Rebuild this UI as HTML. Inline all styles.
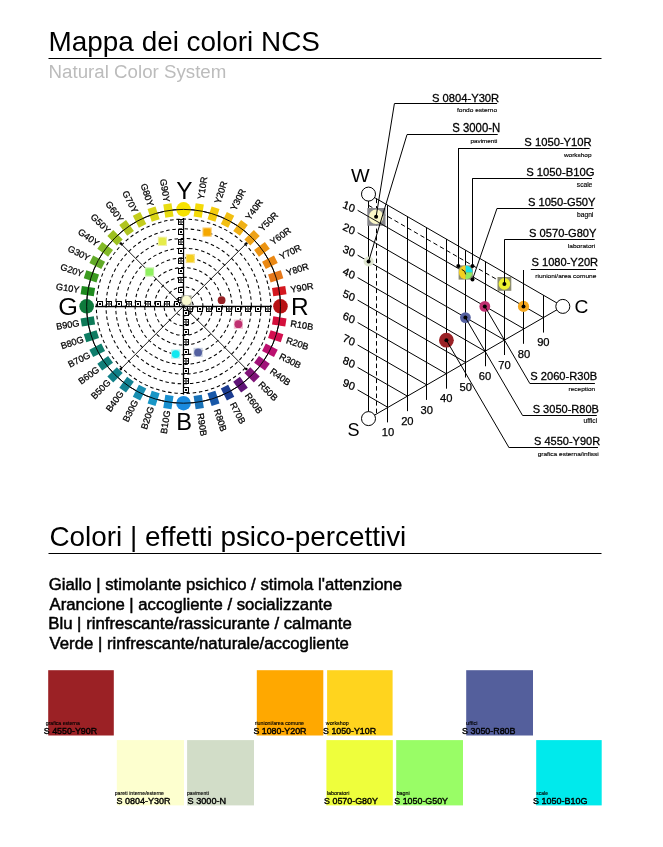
<!DOCTYPE html>
<html><head><meta charset="utf-8"><title>Mappa dei colori NCS</title>
<style>
html,body{margin:0;padding:0;background:#fff;}
body{width:663px;height:847px;overflow:hidden;}
svg{display:block;font-family:'Liberation Sans', Arial, Helvetica, sans-serif;will-change:transform;}
</style></head>
<body>
<svg width="663" height="847" viewBox="0 0 663 847">
<rect width="663" height="847" fill="#fff"/>
<text x="48.61" y="50.9" font-size="28.3" textLength="271.27" lengthAdjust="spacingAndGlyphs" fill="#000">Mappa dei colori NCS</text>
<line x1="48.5" y1="58.5" x2="601.5" y2="58.5" stroke="#000" stroke-width="1.2"/>
<text x="48.57" y="77.5" font-size="19.2" textLength="177.77" lengthAdjust="spacingAndGlyphs" fill="#bcbcbc">Natural Color System</text>
<text x="49.49" y="545.6" font-size="28.3" textLength="356.79" lengthAdjust="spacingAndGlyphs" fill="#000">Colori | effetti psico-percettivi</text>
<line x1="48.5" y1="553.5" x2="601.5" y2="553.5" stroke="#000" stroke-width="1.2"/>
<text x="48.76" y="590.1" font-size="16.73" textLength="353.38" lengthAdjust="spacingAndGlyphs" fill="#000" stroke="#000" stroke-width="0.5">Giallo | stimolante psichico / stimola l&#39;attenzione</text>
<text x="49.57" y="609.7" font-size="16.69" textLength="282.67" lengthAdjust="spacingAndGlyphs" fill="#000" stroke="#000" stroke-width="0.5">Arancione | accogliente / socializzante</text>
<text x="48.22" y="629.4" font-size="16.77" textLength="303.52" lengthAdjust="spacingAndGlyphs" fill="#000" stroke="#000" stroke-width="0.5">Blu | rinfrescante/rassicurante / calmante</text>
<text x="49.53" y="649.2" font-size="16.69" textLength="299.42" lengthAdjust="spacingAndGlyphs" fill="#000" stroke="#000" stroke-width="0.5">Verde | rinfrescante/naturale/accogliente</text>
<circle cx="183.55" cy="306.3" r="9.69" fill="none" stroke="#000" stroke-width="1.05" stroke-dasharray="3.5 2.7"/>
<circle cx="183.55" cy="306.3" r="19.38" fill="none" stroke="#000" stroke-width="1.05" stroke-dasharray="3.5 2.7"/>
<circle cx="183.55" cy="306.3" r="29.07" fill="none" stroke="#000" stroke-width="1.05" stroke-dasharray="3.5 2.7"/>
<circle cx="183.55" cy="306.3" r="38.76" fill="none" stroke="#000" stroke-width="1.05" stroke-dasharray="3.5 2.7"/>
<circle cx="183.55" cy="306.3" r="48.45" fill="none" stroke="#000" stroke-width="1.05" stroke-dasharray="3.5 2.7"/>
<circle cx="183.55" cy="306.3" r="58.14" fill="none" stroke="#000" stroke-width="1.05" stroke-dasharray="3.5 2.7"/>
<circle cx="183.55" cy="306.3" r="67.83" fill="none" stroke="#000" stroke-width="1.05" stroke-dasharray="3.5 2.7"/>
<circle cx="183.55" cy="306.3" r="77.52" fill="none" stroke="#000" stroke-width="1.05" stroke-dasharray="3.5 2.7"/>
<circle cx="183.55" cy="306.3" r="87.21" fill="none" stroke="#000" stroke-width="1.05" stroke-dasharray="3.5 2.7"/>
<circle cx="183.55" cy="306.3" r="96.9" fill="none" stroke="#000" stroke-width="1"/>
<line x1="95.25" y1="306.5" x2="271.85" y2="306.5" stroke="#000" stroke-width="1.3"/>
<line x1="183.5" y1="218" x2="183.5" y2="394.6" stroke="#000" stroke-width="1.3"/>
<line x1="120.62" y1="243.37" x2="246.48" y2="369.23" stroke="#000" stroke-width="0.9"/>
<line x1="120.62" y1="369.23" x2="246.48" y2="243.37" stroke="#000" stroke-width="0.9"/>
<circle cx="120.76" cy="243.51" r="1.3" fill="#000"/>
<circle cx="120.76" cy="369.09" r="1.3" fill="#000"/>
<circle cx="246.34" cy="243.51" r="1.3" fill="#000"/>
<circle cx="246.34" cy="369.09" r="1.3" fill="#000"/>
<rect x="174.5" y="301.5" width="5" height="5" fill="#fff" stroke="#000" stroke-width="1"/>
<path d="M175.9 302.9L178.1 305.1M178.1 302.9L175.9 305.1" stroke="#000" stroke-width="0.95"/>
<rect x="187.5" y="306.5" width="5" height="5" fill="#fff" stroke="#000" stroke-width="1"/>
<circle cx="190" cy="309" r="1.25" fill="none" stroke="#000" stroke-width="0.95"/>
<rect x="178.5" y="297.5" width="5" height="5" fill="#fff" stroke="#000" stroke-width="1"/>
<circle cx="181" cy="300" r="1.25" fill="none" stroke="#000" stroke-width="0.95"/>
<rect x="183.5" y="310.5" width="5" height="5" fill="#fff" stroke="#000" stroke-width="1"/>
<path d="M184.9 311.9L187.1 314.1M187.1 311.9L184.9 314.1" stroke="#000" stroke-width="0.95"/>
<rect x="164.5" y="301.5" width="5" height="5" fill="#fff" stroke="#000" stroke-width="1"/>
<circle cx="167" cy="304" r="1.25" fill="none" stroke="#000" stroke-width="0.95"/>
<rect x="197.5" y="306.5" width="5" height="5" fill="#fff" stroke="#000" stroke-width="1"/>
<path d="M198.9 307.9L201.1 310.1M201.1 307.9L198.9 310.1" stroke="#000" stroke-width="0.95"/>
<rect x="178.5" y="287.5" width="5" height="5" fill="#fff" stroke="#000" stroke-width="1"/>
<path d="M179.9 288.9L182.1 291.1M182.1 288.9L179.9 291.1" stroke="#000" stroke-width="0.95"/>
<rect x="183.5" y="319.5" width="5" height="5" fill="#fff" stroke="#000" stroke-width="1"/>
<circle cx="186" cy="322" r="1.25" fill="none" stroke="#000" stroke-width="0.95"/>
<rect x="155.5" y="301.5" width="5" height="5" fill="#fff" stroke="#000" stroke-width="1"/>
<path d="M156.9 302.9L159.1 305.1M159.1 302.9L156.9 305.1" stroke="#000" stroke-width="0.95"/>
<rect x="206.5" y="306.5" width="5" height="5" fill="#fff" stroke="#000" stroke-width="1"/>
<circle cx="209" cy="309" r="1.25" fill="none" stroke="#000" stroke-width="0.95"/>
<rect x="178.5" y="277.5" width="5" height="5" fill="#fff" stroke="#000" stroke-width="1"/>
<circle cx="181" cy="280" r="1.25" fill="none" stroke="#000" stroke-width="0.95"/>
<rect x="183.5" y="329.5" width="5" height="5" fill="#fff" stroke="#000" stroke-width="1"/>
<path d="M184.9 330.9L187.1 333.1M187.1 330.9L184.9 333.1" stroke="#000" stroke-width="0.95"/>
<rect x="145.5" y="301.5" width="5" height="5" fill="#fff" stroke="#000" stroke-width="1"/>
<circle cx="148" cy="304" r="1.25" fill="none" stroke="#000" stroke-width="0.95"/>
<rect x="216.5" y="306.5" width="5" height="5" fill="#fff" stroke="#000" stroke-width="1"/>
<path d="M217.9 307.9L220.1 310.1M220.1 307.9L217.9 310.1" stroke="#000" stroke-width="0.95"/>
<rect x="178.5" y="268.5" width="5" height="5" fill="#fff" stroke="#000" stroke-width="1"/>
<path d="M179.9 269.9L182.1 272.1M182.1 269.9L179.9 272.1" stroke="#000" stroke-width="0.95"/>
<rect x="183.5" y="339.5" width="5" height="5" fill="#fff" stroke="#000" stroke-width="1"/>
<circle cx="186" cy="342" r="1.25" fill="none" stroke="#000" stroke-width="0.95"/>
<rect x="135.5" y="301.5" width="5" height="5" fill="#fff" stroke="#000" stroke-width="1"/>
<path d="M136.9 302.9L139.1 305.1M139.1 302.9L136.9 305.1" stroke="#000" stroke-width="0.95"/>
<rect x="226.5" y="306.5" width="5" height="5" fill="#fff" stroke="#000" stroke-width="1"/>
<circle cx="229" cy="309" r="1.25" fill="none" stroke="#000" stroke-width="0.95"/>
<rect x="178.5" y="258.5" width="5" height="5" fill="#fff" stroke="#000" stroke-width="1"/>
<circle cx="181" cy="261" r="1.25" fill="none" stroke="#000" stroke-width="0.95"/>
<rect x="183.5" y="349.5" width="5" height="5" fill="#fff" stroke="#000" stroke-width="1"/>
<path d="M184.9 350.9L187.1 353.1M187.1 350.9L184.9 353.1" stroke="#000" stroke-width="0.95"/>
<rect x="126.5" y="301.5" width="5" height="5" fill="#fff" stroke="#000" stroke-width="1"/>
<circle cx="129" cy="304" r="1.25" fill="none" stroke="#000" stroke-width="0.95"/>
<rect x="235.5" y="306.5" width="5" height="5" fill="#fff" stroke="#000" stroke-width="1"/>
<path d="M236.9 307.9L239.1 310.1M239.1 307.9L236.9 310.1" stroke="#000" stroke-width="0.95"/>
<rect x="178.5" y="248.5" width="5" height="5" fill="#fff" stroke="#000" stroke-width="1"/>
<path d="M179.9 249.9L182.1 252.1M182.1 249.9L179.9 252.1" stroke="#000" stroke-width="0.95"/>
<rect x="183.5" y="358.5" width="5" height="5" fill="#fff" stroke="#000" stroke-width="1"/>
<circle cx="186" cy="361" r="1.25" fill="none" stroke="#000" stroke-width="0.95"/>
<rect x="116.5" y="301.5" width="5" height="5" fill="#fff" stroke="#000" stroke-width="1"/>
<path d="M117.9 302.9L120.1 305.1M120.1 302.9L117.9 305.1" stroke="#000" stroke-width="0.95"/>
<rect x="245.5" y="306.5" width="5" height="5" fill="#fff" stroke="#000" stroke-width="1"/>
<circle cx="248" cy="309" r="1.25" fill="none" stroke="#000" stroke-width="0.95"/>
<rect x="178.5" y="239.5" width="5" height="5" fill="#fff" stroke="#000" stroke-width="1"/>
<circle cx="181" cy="242" r="1.25" fill="none" stroke="#000" stroke-width="0.95"/>
<rect x="183.5" y="368.5" width="5" height="5" fill="#fff" stroke="#000" stroke-width="1"/>
<path d="M184.9 369.9L187.1 372.1M187.1 369.9L184.9 372.1" stroke="#000" stroke-width="0.95"/>
<rect x="106.5" y="301.5" width="5" height="5" fill="#fff" stroke="#000" stroke-width="1"/>
<circle cx="109" cy="304" r="1.25" fill="none" stroke="#000" stroke-width="0.95"/>
<rect x="255.5" y="306.5" width="5" height="5" fill="#fff" stroke="#000" stroke-width="1"/>
<path d="M256.9 307.9L259.1 310.1M259.1 307.9L256.9 310.1" stroke="#000" stroke-width="0.95"/>
<rect x="178.5" y="229.5" width="5" height="5" fill="#fff" stroke="#000" stroke-width="1"/>
<path d="M179.9 230.9L182.1 233.1M182.1 230.9L179.9 233.1" stroke="#000" stroke-width="0.95"/>
<rect x="183.5" y="378.5" width="5" height="5" fill="#fff" stroke="#000" stroke-width="1"/>
<circle cx="186" cy="381" r="1.25" fill="none" stroke="#000" stroke-width="0.95"/>
<rect x="97.5" y="301.5" width="5" height="5" fill="#fff" stroke="#000" stroke-width="1"/>
<path d="M98.9 302.9L101.1 305.1M101.1 302.9L98.9 305.1" stroke="#000" stroke-width="0.95"/>
<rect x="265.5" y="306.5" width="5" height="5" fill="#fff" stroke="#000" stroke-width="1"/>
<circle cx="268" cy="309" r="1.25" fill="none" stroke="#000" stroke-width="0.95"/>
<rect x="178.5" y="219.5" width="5" height="5" fill="#fff" stroke="#000" stroke-width="1"/>
<circle cx="181" cy="222" r="1.25" fill="none" stroke="#000" stroke-width="0.95"/>
<rect x="183.5" y="387.5" width="5" height="5" fill="#fff" stroke="#000" stroke-width="1"/>
<path d="M184.9 388.9L187.1 391.1M187.1 388.9L184.9 391.1" stroke="#000" stroke-width="0.95"/>
<circle cx="183.55" cy="209.4" r="7.3" fill="#f6e200"/>
<rect x="-6.7" y="-4.15" width="13.4" height="8.3" fill="#f4da08" transform="translate(198.71 210.59) rotate(279)"/>
<rect x="-6.7" y="-4.15" width="13.4" height="8.3" fill="#f4cb0c" transform="translate(213.49 214.14) rotate(288)"/>
<rect x="-6.7" y="-4.15" width="13.4" height="8.3" fill="#f2bf12" transform="translate(227.54 219.96) rotate(297)"/>
<rect x="-6.7" y="-4.15" width="13.4" height="8.3" fill="#f0b014" transform="translate(240.51 227.91) rotate(306)"/>
<rect x="-6.7" y="-4.15" width="13.4" height="8.3" fill="#eea216" transform="translate(252.07 237.78) rotate(315)"/>
<rect x="-6.7" y="-4.15" width="13.4" height="8.3" fill="#ec9412" transform="translate(261.94 249.34) rotate(324)"/>
<rect x="-6.7" y="-4.15" width="13.4" height="8.3" fill="#ea8814" transform="translate(269.89 262.31) rotate(333)"/>
<rect x="-6.7" y="-4.15" width="13.4" height="8.3" fill="#e6781a" transform="translate(275.71 276.36) rotate(342)"/>
<rect x="-6.7" y="-4.15" width="13.4" height="8.3" fill="#d41820" transform="translate(279.26 291.14) rotate(351)"/>
<circle cx="280.45" cy="306.3" r="7.3" fill="#b81214"/>
<rect x="-6.7" y="-4.15" width="13.4" height="8.3" fill="#d4103c" transform="translate(279.26 321.46) rotate(369)"/>
<rect x="-6.7" y="-4.15" width="13.4" height="8.3" fill="#d41050" transform="translate(275.71 336.24) rotate(378)"/>
<rect x="-6.7" y="-4.15" width="13.4" height="8.3" fill="#bc1070" transform="translate(269.89 350.29) rotate(387)"/>
<rect x="-6.7" y="-4.15" width="13.4" height="8.3" fill="#a01278" transform="translate(261.94 363.26) rotate(396)"/>
<rect x="-6.7" y="-4.15" width="13.4" height="8.3" fill="#801478" transform="translate(252.07 374.82) rotate(405)"/>
<rect x="-6.7" y="-4.15" width="13.4" height="8.3" fill="#5e1476" transform="translate(240.51 384.69) rotate(414)"/>
<rect x="-6.7" y="-4.15" width="13.4" height="8.3" fill="#1c3c90" transform="translate(227.54 392.64) rotate(423)"/>
<rect x="-6.7" y="-4.15" width="13.4" height="8.3" fill="#1858a8" transform="translate(213.49 398.46) rotate(432)"/>
<rect x="-6.7" y="-4.15" width="13.4" height="8.3" fill="#1872b8" transform="translate(198.71 402.01) rotate(441)"/>
<circle cx="183.55" cy="403.2" r="7.3" fill="#1a8ade"/>
<rect x="-6.7" y="-4.15" width="13.4" height="8.3" fill="#1890d0" transform="translate(168.39 402.01) rotate(459)"/>
<rect x="-6.7" y="-4.15" width="13.4" height="8.3" fill="#1896c6" transform="translate(153.61 398.46) rotate(468)"/>
<rect x="-6.7" y="-4.15" width="13.4" height="8.3" fill="#188eb0" transform="translate(139.56 392.64) rotate(477)"/>
<rect x="-6.7" y="-4.15" width="13.4" height="8.3" fill="#128292" transform="translate(126.59 384.69) rotate(486)"/>
<rect x="-6.7" y="-4.15" width="13.4" height="8.3" fill="#108088" transform="translate(115.03 374.82) rotate(495)"/>
<rect x="-6.7" y="-4.15" width="13.4" height="8.3" fill="#107e78" transform="translate(105.16 363.26) rotate(504)"/>
<rect x="-6.7" y="-4.15" width="13.4" height="8.3" fill="#0e7e6c" transform="translate(97.21 350.29) rotate(513)"/>
<rect x="-6.7" y="-4.15" width="13.4" height="8.3" fill="#0e7c62" transform="translate(91.39 336.24) rotate(522)"/>
<rect x="-6.7" y="-4.15" width="13.4" height="8.3" fill="#0e7a58" transform="translate(87.84 321.46) rotate(531)"/>
<circle cx="86.65" cy="306.3" r="7.3" fill="#0e7a3c"/>
<rect x="-6.7" y="-4.15" width="13.4" height="8.3" fill="#1e8a1e" transform="translate(87.84 291.14) rotate(549)"/>
<rect x="-6.7" y="-4.15" width="13.4" height="8.3" fill="#3c9a20" transform="translate(91.39 276.36) rotate(558)"/>
<rect x="-6.7" y="-4.15" width="13.4" height="8.3" fill="#62aa28" transform="translate(97.21 262.31) rotate(567)"/>
<rect x="-6.7" y="-4.15" width="13.4" height="8.3" fill="#84ba28" transform="translate(105.16 249.34) rotate(576)"/>
<rect x="-6.7" y="-4.15" width="13.4" height="8.3" fill="#9cc020" transform="translate(115.03 237.78) rotate(585)"/>
<rect x="-6.7" y="-4.15" width="13.4" height="8.3" fill="#b0c420" transform="translate(126.59 227.91) rotate(594)"/>
<rect x="-6.7" y="-4.15" width="13.4" height="8.3" fill="#c4cc1c" transform="translate(139.56 219.96) rotate(603)"/>
<rect x="-6.7" y="-4.15" width="13.4" height="8.3" fill="#d8d418" transform="translate(153.61 214.14) rotate(612)"/>
<rect x="-6.7" y="-4.15" width="13.4" height="8.3" fill="#e8dc12" transform="translate(168.39 210.59) rotate(621)"/>
<circle cx="183.55" cy="306.3" r="96.9" fill="none" stroke="#000" stroke-width="0.9"/>
<text font-size="9.2" stroke="#000" stroke-width="0.25" dy="3.3" transform="translate(200.49 199.33) rotate(-81)">Y10R</text>
<text font-size="9.2" stroke="#000" stroke-width="0.25" dy="3.3" transform="translate(217.02 203.3) rotate(-72)">Y20R</text>
<text font-size="9.2" stroke="#000" stroke-width="0.25" dy="3.3" transform="translate(232.72 209.8) rotate(-63)">Y30R</text>
<text font-size="9.2" stroke="#000" stroke-width="0.25" dy="3.3" transform="translate(247.21 218.68) rotate(-54)">Y40R</text>
<text font-size="9.2" stroke="#000" stroke-width="0.25" dy="3.3" transform="translate(260.13 229.72) rotate(-45)">Y50R</text>
<text font-size="9.2" stroke="#000" stroke-width="0.25" dy="3.3" transform="translate(271.17 242.64) rotate(-36)">Y60R</text>
<text font-size="9.2" stroke="#000" stroke-width="0.25" dy="3.3" transform="translate(280.05 257.13) rotate(-27)">Y70R</text>
<text font-size="9.2" stroke="#000" stroke-width="0.25" dy="3.3" transform="translate(286.55 272.83) rotate(-18)">Y80R</text>
<text font-size="9.2" stroke="#000" stroke-width="0.25" dy="3.3" transform="translate(290.52 289.36) rotate(-9)">Y90R</text>
<text font-size="9.2" stroke="#000" stroke-width="0.25" dy="3.3" transform="translate(290.52 323.24) rotate(9)">R10B</text>
<text font-size="9.2" stroke="#000" stroke-width="0.25" dy="3.3" transform="translate(286.55 339.77) rotate(18)">R20B</text>
<text font-size="9.2" stroke="#000" stroke-width="0.25" dy="3.3" transform="translate(280.05 355.47) rotate(27)">R30B</text>
<text font-size="9.2" stroke="#000" stroke-width="0.25" dy="3.3" transform="translate(271.17 369.96) rotate(36)">R40B</text>
<text font-size="9.2" stroke="#000" stroke-width="0.25" dy="3.3" transform="translate(260.13 382.88) rotate(45)">R50B</text>
<text font-size="9.2" stroke="#000" stroke-width="0.25" dy="3.3" transform="translate(247.21 393.92) rotate(54)">R60B</text>
<text font-size="9.2" stroke="#000" stroke-width="0.25" dy="3.3" transform="translate(232.72 402.8) rotate(63)">R70B</text>
<text font-size="9.2" stroke="#000" stroke-width="0.25" dy="3.3" transform="translate(217.02 409.3) rotate(72)">R80B</text>
<text font-size="9.2" stroke="#000" stroke-width="0.25" dy="3.3" transform="translate(200.49 413.27) rotate(81)">R90B</text>
<text font-size="9.2" stroke="#000" stroke-width="0.25" text-anchor="end" dy="3.3" transform="translate(167.05 410.5) rotate(-81)">B10G</text>
<text font-size="9.2" stroke="#000" stroke-width="0.25" text-anchor="end" dy="3.3" transform="translate(150.95 406.64) rotate(-72)">B20G</text>
<text font-size="9.2" stroke="#000" stroke-width="0.25" text-anchor="end" dy="3.3" transform="translate(135.65 400.3) rotate(-63)">B30G</text>
<text font-size="9.2" stroke="#000" stroke-width="0.25" text-anchor="end" dy="3.3" transform="translate(121.54 391.65) rotate(-54)">B40G</text>
<text font-size="9.2" stroke="#000" stroke-width="0.25" text-anchor="end" dy="3.3" transform="translate(108.95 380.9) rotate(-45)">B50G</text>
<text font-size="9.2" stroke="#000" stroke-width="0.25" text-anchor="end" dy="3.3" transform="translate(98.2 368.31) rotate(-36)">B60G</text>
<text font-size="9.2" stroke="#000" stroke-width="0.25" text-anchor="end" dy="3.3" transform="translate(89.55 354.2) rotate(-27)">B70G</text>
<text font-size="9.2" stroke="#000" stroke-width="0.25" text-anchor="end" dy="3.3" transform="translate(83.21 338.9) rotate(-18)">B80G</text>
<text font-size="9.2" stroke="#000" stroke-width="0.25" text-anchor="end" dy="3.3" transform="translate(79.35 322.8) rotate(-9)">B90G</text>
<text font-size="9.2" stroke="#000" stroke-width="0.25" text-anchor="end" dy="3.3" transform="translate(79.35 289.8) rotate(9)">G10Y</text>
<text font-size="9.2" stroke="#000" stroke-width="0.25" text-anchor="end" dy="3.3" transform="translate(83.21 273.7) rotate(18)">G20Y</text>
<text font-size="9.2" stroke="#000" stroke-width="0.25" text-anchor="end" dy="3.3" transform="translate(89.55 258.4) rotate(27)">G30Y</text>
<text font-size="9.2" stroke="#000" stroke-width="0.25" text-anchor="end" dy="3.3" transform="translate(98.2 244.29) rotate(36)">G40Y</text>
<text font-size="9.2" stroke="#000" stroke-width="0.25" text-anchor="end" dy="3.3" transform="translate(108.95 231.7) rotate(45)">G50Y</text>
<text font-size="9.2" stroke="#000" stroke-width="0.25" text-anchor="end" dy="3.3" transform="translate(121.54 220.95) rotate(54)">G60Y</text>
<text font-size="9.2" stroke="#000" stroke-width="0.25" text-anchor="end" dy="3.3" transform="translate(135.65 212.3) rotate(63)">G70Y</text>
<text font-size="9.2" stroke="#000" stroke-width="0.25" text-anchor="end" dy="3.3" transform="translate(150.95 205.96) rotate(72)">G80Y</text>
<text font-size="9.2" stroke="#000" stroke-width="0.25" text-anchor="end" dy="3.3" transform="translate(167.05 202.1) rotate(81)">G90Y</text>
<text x="176.36" y="198.6" font-size="24.2" textLength="16.27" lengthAdjust="spacingAndGlyphs" fill="#000">Y</text>
<text x="291.1" y="314.7" font-size="23.8" textLength="17.64" lengthAdjust="spacingAndGlyphs" fill="#000">R</text>
<text x="176.26" y="430.4" font-size="24.4" textLength="15.79" lengthAdjust="spacingAndGlyphs" fill="#000">B</text>
<text x="58.33" y="314.5" font-size="23.3" textLength="19.66" lengthAdjust="spacingAndGlyphs" fill="#000">G</text>
<rect x="157.8" y="236.7" width="9.2" height="9.2" fill="#f0f0a0"/>
<rect x="158.8" y="237.7" width="7.2" height="7.2" rx="1.5" fill="#e6ec4a"/>
<rect x="185.7" y="253.9" width="9.2" height="9.2" fill="#f8e080"/>
<rect x="186.7" y="254.9" width="7.2" height="7.2" rx="1.5" fill="#f5d020"/>
<rect x="202.5" y="227.5" width="9.2" height="9.2" fill="#f8c860"/>
<rect x="203.5" y="228.5" width="7.2" height="7.2" rx="1.5" fill="#f5a800"/>
<rect x="144.9" y="267.4" width="9.2" height="9.2" fill="#c0f0a0"/>
<rect x="145.9" y="268.4" width="7.2" height="7.2" rx="1.5" fill="#8ef060"/>
<rect x="171.1" y="349.5" width="9.2" height="9.2" fill="#b0f0f0"/>
<circle cx="175.7" cy="354.1" r="3.9" fill="#10e8f0"/>
<rect x="193.5" y="347.8" width="9.2" height="9.2" fill="#c8d0e0"/>
<circle cx="198.1" cy="352.4" r="3.9" fill="#5460a0"/>
<rect x="233.8" y="319.6" width="9.2" height="9.2" fill="#f0c0d0"/>
<circle cx="238.4" cy="324.2" r="3.9" fill="#c03070"/>
<circle cx="221.6" cy="300.2" r="3.9" fill="#962024"/>
<rect x="181.5" y="295.4" width="10" height="10" fill="#a0a090"/>
<circle cx="186.5" cy="300.4" r="4.6" fill="#fbfbd0"/>
<line x1="357.6" y1="210.25" x2="543.37" y2="317.58" stroke="#000" stroke-width="1"/>
<line x1="357.6" y1="232.7" x2="523.94" y2="328.8" stroke="#000" stroke-width="1"/>
<line x1="357.6" y1="255.15" x2="504.51" y2="340.02" stroke="#000" stroke-width="1"/>
<line x1="357.6" y1="277.6" x2="485.08" y2="351.25" stroke="#000" stroke-width="1"/>
<line x1="357.6" y1="300.05" x2="465.65" y2="362.48" stroke="#000" stroke-width="1"/>
<line x1="357.6" y1="322.5" x2="446.22" y2="373.7" stroke="#000" stroke-width="1"/>
<line x1="357.6" y1="344.95" x2="426.79" y2="384.93" stroke="#000" stroke-width="1"/>
<line x1="357.6" y1="367.4" x2="407.36" y2="396.15" stroke="#000" stroke-width="1"/>
<line x1="357.6" y1="389.85" x2="387.93" y2="407.38" stroke="#000" stroke-width="1"/>
<line x1="387.5" y1="205.32" x2="387.5" y2="422.38" stroke="#000" stroke-width="1"/>
<line x1="407.5" y1="216.55" x2="407.5" y2="411.15" stroke="#000" stroke-width="1"/>
<line x1="426.5" y1="227.78" x2="426.5" y2="399.93" stroke="#000" stroke-width="1"/>
<line x1="446.5" y1="239" x2="446.5" y2="388.7" stroke="#000" stroke-width="1"/>
<line x1="465.5" y1="250.22" x2="465.5" y2="377.48" stroke="#000" stroke-width="1"/>
<line x1="485.5" y1="261.45" x2="485.5" y2="366.25" stroke="#000" stroke-width="1"/>
<line x1="504.5" y1="272.68" x2="504.5" y2="355.03" stroke="#000" stroke-width="1"/>
<line x1="523.5" y1="283.9" x2="523.5" y2="343.8" stroke="#000" stroke-width="1"/>
<line x1="543.5" y1="295.12" x2="543.5" y2="332.57" stroke="#000" stroke-width="1"/>
<line x1="368.5" y1="205.32" x2="504.51" y2="283.9" stroke="#000" stroke-width="1" stroke-dasharray="4.5 3"/>
<line x1="376.5" y1="198.59" x2="376.5" y2="414.11" stroke="#000" stroke-width="1" stroke-dasharray="4.5 3"/>
<line x1="368.5" y1="194.1" x2="368.5" y2="418.6" stroke="#000" stroke-width="1"/>
<line x1="368.5" y1="194.1" x2="562.8" y2="306.4" stroke="#000" stroke-width="1"/>
<line x1="368.5" y1="418.6" x2="562.8" y2="306.4" stroke="#000" stroke-width="1"/>
<circle cx="368.5" cy="194.1" r="7.0" fill="#fff" stroke="#000" stroke-width="1"/>
<circle cx="368.5" cy="418.6" r="7.0" fill="#fff" stroke="#000" stroke-width="1"/>
<circle cx="562.8" cy="306.4" r="7.0" fill="#fff" stroke="#000" stroke-width="1"/>
<text x="351.01" y="181.5" font-size="19.2" textLength="18.65" lengthAdjust="spacingAndGlyphs" fill="#000">W</text>
<text x="347.38" y="436.4" font-size="18.8" textLength="12.05" lengthAdjust="spacingAndGlyphs" fill="#000">S</text>
<text x="574.42" y="313" font-size="18.8" textLength="13.91" lengthAdjust="spacingAndGlyphs" fill="#000">C</text>
<text x="0" y="3.9" font-size="10.2" stroke="#000" stroke-width="0.25" text-anchor="middle" transform="translate(349.1 206.2) matrix(1 0.5 -0.36 1 0 0)">10</text>
<text x="0" y="3.9" font-size="10.2" stroke="#000" stroke-width="0.25" text-anchor="middle" transform="translate(349.1 228.44) matrix(1 0.5 -0.36 1 0 0)">20</text>
<text x="0" y="3.9" font-size="10.2" stroke="#000" stroke-width="0.25" text-anchor="middle" transform="translate(349.1 250.68) matrix(1 0.5 -0.36 1 0 0)">30</text>
<text x="0" y="3.9" font-size="10.2" stroke="#000" stroke-width="0.25" text-anchor="middle" transform="translate(349.1 272.92) matrix(1 0.5 -0.36 1 0 0)">40</text>
<text x="0" y="3.9" font-size="10.2" stroke="#000" stroke-width="0.25" text-anchor="middle" transform="translate(349.1 295.16) matrix(1 0.5 -0.36 1 0 0)">50</text>
<text x="0" y="3.9" font-size="10.2" stroke="#000" stroke-width="0.25" text-anchor="middle" transform="translate(349.1 317.4) matrix(1 0.5 -0.36 1 0 0)">60</text>
<text x="0" y="3.9" font-size="10.2" stroke="#000" stroke-width="0.25" text-anchor="middle" transform="translate(349.1 339.64) matrix(1 0.5 -0.36 1 0 0)">70</text>
<text x="0" y="3.9" font-size="10.2" stroke="#000" stroke-width="0.25" text-anchor="middle" transform="translate(349.1 361.88) matrix(1 0.5 -0.36 1 0 0)">80</text>
<text x="0" y="3.9" font-size="10.2" stroke="#000" stroke-width="0.25" text-anchor="middle" transform="translate(349.1 384.12) matrix(1 0.5 -0.36 1 0 0)">90</text>
<text x="387.93" y="436" font-size="11.2" stroke="#000" stroke-width="0.25" text-anchor="middle">10</text>
<text x="407.36" y="424.8" font-size="11.2" stroke="#000" stroke-width="0.25" text-anchor="middle">20</text>
<text x="426.79" y="413.6" font-size="11.2" stroke="#000" stroke-width="0.25" text-anchor="middle">30</text>
<text x="446.22" y="402.4" font-size="11.2" stroke="#000" stroke-width="0.25" text-anchor="middle">40</text>
<text x="465.65" y="391.2" font-size="11.2" stroke="#000" stroke-width="0.25" text-anchor="middle">50</text>
<text x="485.08" y="380" font-size="11.2" stroke="#000" stroke-width="0.25" text-anchor="middle">60</text>
<text x="504.51" y="368.8" font-size="11.2" stroke="#000" stroke-width="0.25" text-anchor="middle">70</text>
<text x="523.94" y="357.6" font-size="11.2" stroke="#000" stroke-width="0.25" text-anchor="middle">80</text>
<text x="543.37" y="346.4" font-size="11.2" stroke="#000" stroke-width="0.25" text-anchor="middle">90</text>
<rect x="367.3" y="208" width="18.2" height="17.8" fill="#86868a"/>
<circle cx="376.1" cy="216.8" r="7.3" fill="#fbf8c8"/>
<circle cx="368.6" cy="261.5" r="5" fill="#dfe6d0"/>
<rect x="458.6" y="265.4" width="14.2" height="14.2" fill="#8a8a70"/>
<path d="M465.7 265.59999999999997A6.8 6.8 0 0 0 465.7 279.2Z" fill="#f4d020"/>
<path d="M465.7 265.59999999999997A6.8 6.8 0 0 1 472.5 272.4L465.7 272.4Z" fill="#18e0e8"/>
<path d="M472.5 272.4A6.8 6.8 0 0 1 465.7 279.2L465.7 272.4Z" fill="#90ec60"/>
<rect x="497.5" y="277" width="13.8" height="13.8" fill="#8c8c70"/>
<circle cx="504.4" cy="283.9" r="5.8" fill="#eef230"/>
<circle cx="523.5" cy="306.4" r="5.6" fill="#f5a820"/>
<circle cx="484.8" cy="306.4" r="5.4" fill="#c03070"/>
<circle cx="465.4" cy="317.6" r="5.4" fill="#5460a0"/>
<circle cx="446.4" cy="340.2" r="7.4" fill="#9a2226"/>
<line x1="367.3" y1="215.86" x2="385.5" y2="226.37" stroke="#000" stroke-width="0.9"/>
<line x1="394.4" y1="103.6" x2="376.1" y2="216.8" stroke="#000" stroke-width="1"/>
<line x1="407" y1="134.6" x2="368.6" y2="261.5" stroke="#000" stroke-width="1"/>
<line x1="458.5" y1="148.1" x2="458.5" y2="266" stroke="#000" stroke-width="1"/>
<line x1="472.5" y1="178.3" x2="472.5" y2="266" stroke="#000" stroke-width="1"/>
<line x1="497" y1="208.4" x2="472.5" y2="279.5" stroke="#000" stroke-width="1"/>
<line x1="504.5" y1="239.8" x2="504.5" y2="284" stroke="#000" stroke-width="1"/>
<line x1="523.5" y1="270" x2="523.5" y2="306.4" stroke="#000" stroke-width="1"/>
<line x1="529.6" y1="383.1" x2="484.8" y2="306.4" stroke="#000" stroke-width="1"/>
<line x1="522.4" y1="415.2" x2="465.4" y2="317.6" stroke="#000" stroke-width="1"/>
<line x1="509.1" y1="447.8" x2="446.4" y2="340.2" stroke="#000" stroke-width="1"/>
<circle cx="376.1" cy="216.8" r="2" fill="#000"/>
<circle cx="368.6" cy="261.5" r="2" fill="#000"/>
<circle cx="458.3" cy="266" r="2" fill="#000"/>
<circle cx="472.5" cy="266" r="2" fill="#000"/>
<circle cx="472.5" cy="279.5" r="2" fill="#000"/>
<circle cx="504.4" cy="283.9" r="2" fill="#000"/>
<circle cx="523.5" cy="306.4" r="2" fill="#000"/>
<circle cx="484.8" cy="306.4" r="2" fill="#000"/>
<circle cx="465.4" cy="317.6" r="2" fill="#000"/>
<circle cx="446.4" cy="340.2" r="2" fill="#000"/>
<path d="M461.7 269.4L464.7 271.4L465.7 274.4" stroke="#000" stroke-width="0.9" fill="none"/>
<text x="431.89" y="101.5" font-size="11.77" textLength="67.33" lengthAdjust="spacingAndGlyphs" fill="#000" stroke="#000" stroke-width="0.3">S 0804-Y30R</text>
<line x1="394.4" y1="103.5" x2="497.1" y2="103.5" stroke="#000" stroke-width="1.05"/>
<text x="456.91" y="112" font-size="6.24" textLength="40.17" lengthAdjust="spacingAndGlyphs" fill="#000" stroke="#000" stroke-width="0.15">fondo esterno</text>
<text x="452.28" y="131.9" font-size="11.92" textLength="47.94" lengthAdjust="spacingAndGlyphs" fill="#000" stroke="#000" stroke-width="0.3">S 3000-N</text>
<line x1="407" y1="134.5" x2="497.7" y2="134.5" stroke="#000" stroke-width="1.05"/>
<text x="470.6" y="142.5" font-size="5.95" textLength="26.83" lengthAdjust="spacingAndGlyphs" fill="#000" stroke="#000" stroke-width="0.15">pavimenti</text>
<text x="524.29" y="145.7" font-size="11.79" textLength="67.43" lengthAdjust="spacingAndGlyphs" fill="#000" stroke="#000" stroke-width="0.3">S 1050-Y10R</text>
<line x1="458.3" y1="148.5" x2="589.6" y2="148.5" stroke="#000" stroke-width="1.05"/>
<text x="563.91" y="156.6" font-size="6.12" textLength="27.56" lengthAdjust="spacingAndGlyphs" fill="#000" stroke="#000" stroke-width="0.15">workshop</text>
<text x="526.19" y="175.8" font-size="11.83" textLength="68.25" lengthAdjust="spacingAndGlyphs" fill="#000" stroke="#000" stroke-width="0.3">S 1050-B10G</text>
<line x1="472.4" y1="178.5" x2="592" y2="178.5" stroke="#000" stroke-width="1.05"/>
<text x="576.82" y="186.8" font-size="6.3" textLength="15.48" lengthAdjust="spacingAndGlyphs" fill="#000" stroke="#000" stroke-width="0.15">scale</text>
<text x="527.89" y="206" font-size="11.72" textLength="67.65" lengthAdjust="spacingAndGlyphs" fill="#000" stroke="#000" stroke-width="0.3">S 1050-G50Y</text>
<line x1="497" y1="208.5" x2="593.7" y2="208.5" stroke="#000" stroke-width="1.05"/>
<text x="576.97" y="217" font-size="6.36" textLength="16.38" lengthAdjust="spacingAndGlyphs" fill="#000" stroke="#000" stroke-width="0.15">bagni</text>
<text x="529.1" y="236.9" font-size="11.67" textLength="67.35" lengthAdjust="spacingAndGlyphs" fill="#000" stroke="#000" stroke-width="0.3">S 0570-G80Y</text>
<line x1="504.3" y1="239.5" x2="594.6" y2="239.5" stroke="#000" stroke-width="1.05"/>
<text x="567.76" y="247.8" font-size="6.26" textLength="27.49" lengthAdjust="spacingAndGlyphs" fill="#000" stroke="#000" stroke-width="0.15">laboratori</text>
<text x="531.5" y="266.3" font-size="11.65" textLength="66.62" lengthAdjust="spacingAndGlyphs" fill="#000" stroke="#000" stroke-width="0.3">S 1080-Y20R</text>
<line x1="530.8" y1="269.5" x2="596" y2="269.5" stroke="#000" stroke-width="1.05"/>
<text x="535.27" y="277.5" font-size="6.21" textLength="61.02" lengthAdjust="spacingAndGlyphs" fill="#000" stroke="#000" stroke-width="0.15">riunioni/area comune</text>
<text x="530.29" y="380" font-size="11.68" textLength="66.79" lengthAdjust="spacingAndGlyphs" fill="#000" stroke="#000" stroke-width="0.3">S 2060-R30B</text>
<line x1="529.6" y1="383.5" x2="594.9" y2="383.5" stroke="#000" stroke-width="1.05"/>
<text x="568.57" y="391.1" font-size="6.15" textLength="26.65" lengthAdjust="spacingAndGlyphs" fill="#000" stroke="#000" stroke-width="0.15">reception</text>
<text x="532.7" y="412.5" font-size="11.59" textLength="66.28" lengthAdjust="spacingAndGlyphs" fill="#000" stroke="#000" stroke-width="0.3">S 3050-R80B</text>
<line x1="522.4" y1="415.5" x2="596.8" y2="415.5" stroke="#000" stroke-width="1.05"/>
<text x="583.57" y="423.2" font-size="6.27" textLength="13.57" lengthAdjust="spacingAndGlyphs" fill="#000" stroke="#000" stroke-width="0.15">uffici</text>
<text x="534" y="445.1" font-size="11.56" textLength="66.11" lengthAdjust="spacingAndGlyphs" fill="#000" stroke="#000" stroke-width="0.3">S 4550-Y90R</text>
<line x1="509.1" y1="447.5" x2="598" y2="447.5" stroke="#000" stroke-width="1.05"/>
<text x="537.73" y="456.3" font-size="6.18" textLength="61.11" lengthAdjust="spacingAndGlyphs" fill="#000" stroke="#000" stroke-width="0.15">grafica esterna/infissi</text>
<rect x="48.2" y="670.2" width="65.6" height="65.3" fill="#9b2125"/>
<text x="45.78" y="724.8" font-size="4.63" textLength="34.02" lengthAdjust="spacingAndGlyphs" fill="#000" stroke="#000" stroke-width="0.12">grafica esterna</text>
<text x="43.8" y="734.2" font-size="9.32" textLength="53.32" lengthAdjust="spacingAndGlyphs" fill="#000" stroke="#000" stroke-width="0.4">S 4550-Y90R</text>
<rect x="256.8" y="670.2" width="66.5" height="65.3" fill="#ffa800"/>
<text x="254.65" y="724.8" font-size="4.76" textLength="49.39" lengthAdjust="spacingAndGlyphs" fill="#000" stroke="#000" stroke-width="0.12">riunioni/area comune</text>
<text x="253.4" y="734.2" font-size="9.29" textLength="53.11" lengthAdjust="spacingAndGlyphs" fill="#000" stroke="#000" stroke-width="0.4">S 1080-Y20R</text>
<rect x="327.1" y="670.2" width="65.5" height="65.3" fill="#ffd41e"/>
<text x="325.81" y="724.8" font-size="4.8" textLength="22.82" lengthAdjust="spacingAndGlyphs" fill="#000" stroke="#000" stroke-width="0.12">workshop</text>
<text x="323.1" y="734.2" font-size="9.25" textLength="52.91" lengthAdjust="spacingAndGlyphs" fill="#000" stroke="#000" stroke-width="0.4">S 1050-Y10R</text>
<rect x="466.2" y="670.2" width="66.8" height="65.3" fill="#545f9c"/>
<text x="466.14" y="724.8" font-size="4.96" textLength="11.33" lengthAdjust="spacingAndGlyphs" fill="#000" stroke="#000" stroke-width="0.12">uffici</text>
<text x="462.1" y="734.2" font-size="9.33" textLength="53.37" lengthAdjust="spacingAndGlyphs" fill="#000" stroke="#000" stroke-width="0.4">S 3050-R80B</text>
<rect x="116.8" y="740.1" width="67.2" height="65.3" fill="#fdffcf"/>
<text x="114.66" y="794.5" font-size="4.7" textLength="49.37" lengthAdjust="spacingAndGlyphs" fill="#000" stroke="#000" stroke-width="0.12">pareti interne/esterne</text>
<text x="116.39" y="803.9" font-size="9.45" textLength="54.03" lengthAdjust="spacingAndGlyphs" fill="#000" stroke="#000" stroke-width="0.4">S 0804-Y30R</text>
<rect x="187.1" y="740.1" width="66.9" height="65.3" fill="#d2ddc8"/>
<text x="186.97" y="794.5" font-size="4.6" textLength="21.87" lengthAdjust="spacingAndGlyphs" fill="#000" stroke="#000" stroke-width="0.12">pavimenti</text>
<text x="187.59" y="803.9" font-size="9.58" textLength="38.56" lengthAdjust="spacingAndGlyphs" fill="#000" stroke="#000" stroke-width="0.4">S 3000-N</text>
<rect x="326.4" y="740.1" width="66.4" height="65.3" fill="#eefe3c"/>
<text x="326.84" y="794.5" font-size="4.86" textLength="22.53" lengthAdjust="spacingAndGlyphs" fill="#000" stroke="#000" stroke-width="0.12">laboratori</text>
<text x="324.1" y="803.9" font-size="9.32" textLength="53.8" lengthAdjust="spacingAndGlyphs" fill="#000" stroke="#000" stroke-width="0.4">S 0570-G80Y</text>
<rect x="396.2" y="740.1" width="66.8" height="65.3" fill="#99fd66"/>
<text x="396.65" y="794.5" font-size="4.82" textLength="13.11" lengthAdjust="spacingAndGlyphs" fill="#000" stroke="#000" stroke-width="0.12">bagni</text>
<text x="394.3" y="803.9" font-size="9.3" textLength="53.7" lengthAdjust="spacingAndGlyphs" fill="#000" stroke="#000" stroke-width="0.4">S 1050-G50Y</text>
<rect x="536.2" y="740.1" width="65.5" height="65.3" fill="#00eaec"/>
<text x="536.36" y="794.5" font-size="4.46" textLength="11.56" lengthAdjust="spacingAndGlyphs" fill="#000" stroke="#000" stroke-width="0.12">scale</text>
<text x="532.99" y="803.9" font-size="9.44" textLength="54.48" lengthAdjust="spacingAndGlyphs" fill="#000" stroke="#000" stroke-width="0.4">S 1050-B10G</text>
</svg>
</body></html>
